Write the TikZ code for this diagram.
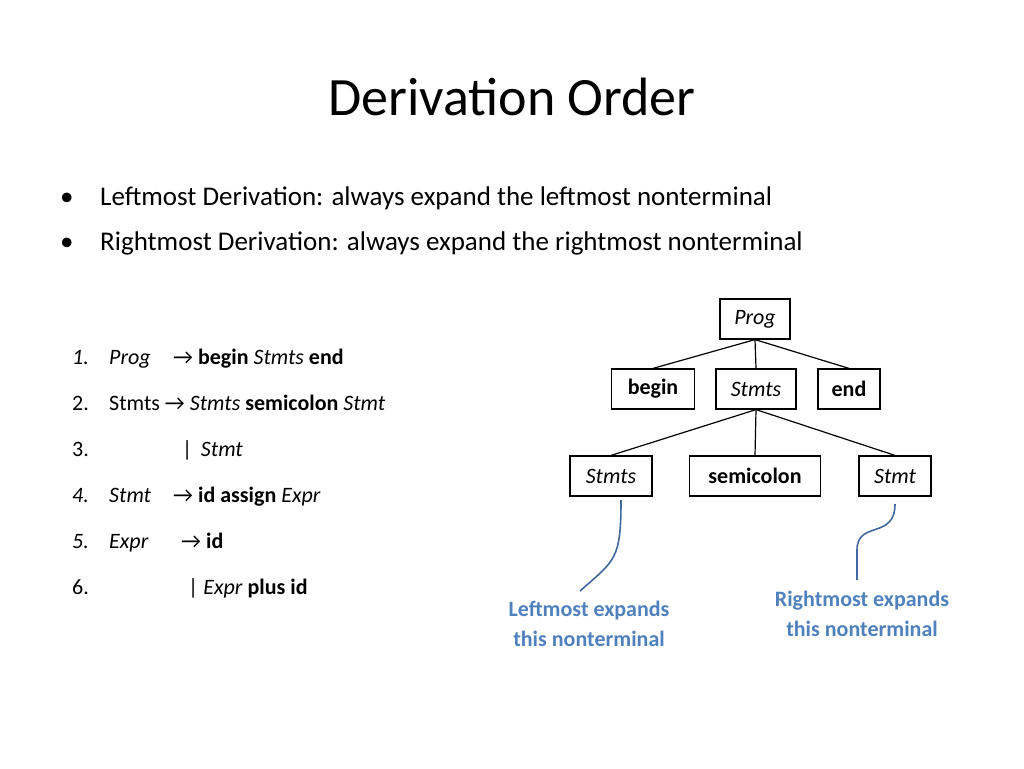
\documentclass[tikz,border=0pt]{standalone}
\usepackage{fontspec}
\setmainfont{Carlito}
\begin{document}
\begin{tikzpicture}[x=1pt,y=-1pt,
  box/.style={draw,line width=1.2pt,minimum height=40pt,inner xsep=8pt,font=\fontsize{22}{26}\selectfont},
  gl/.style={anchor=base west,inner sep=0pt,font=\fontsize{22}{26}\selectfont},
  bl/.style={anchor=base west,inner sep=0pt,font=\fontsize{27}{32}\selectfont},
  tl/.style={draw,line width=1.2pt},
  call/.style={draw=blue!45!black!80,line width=1.6pt,color={rgb,255:red,65;green,105;blue,160}},
  ctext/.style={align=center,font=\bfseries\fontsize{22}{30}\selectfont,text={rgb,255:red,79;green,129;blue,189}}]
\useasboundingbox (0,0) rectangle (1024,768);
\node[font=\fontsize{54}{60}\selectfont] (title) at (512,97) {Derivation Order};
\node[bl] (b1) at (60,205) {•};
\node[bl] (t1) at (100,205) {Leftmost Derivation: always expand the leftmost nonterminal};
\node[bl] (b2) at (60,250) {•};
\node[bl] (t2) at (100,250) {Rightmost Derivation: always expand the rightmost nonterminal};
% grammar
\node[gl] (n1) at (72,364) {\itshape 1.};
\node[gl] (l1a) at (109,364) {\itshape Prog};
\node[gl] (l1b) at (173,364) {→ \textbf{begin} \textit{Stmts} \textbf{end}};
\node[gl] (n2) at (72,410) {2.};
\node[gl] (l2) at (109,410) {Stmts → \textit{Stmts} \textbf{semicolon} \textit{Stmt}};
\node[gl] (n3) at (72,456) {3.};
\node[gl] (l3) at (182,456) {|\, \textit{Stmt}};
\node[gl] (n4) at (72,502) {\itshape 4.};
\node[gl] (l4a) at (109,502) {\itshape Stmt};
\node[gl] (l4b) at (173,502) {→ \textbf{id assign} \textit{Expr}};
\node[gl] (n5) at (72,548) {\itshape 5.};
\node[gl] (l5a) at (109,548) {\itshape Expr};
\node[gl] (l5b) at (181,548) {→ \textbf{id}};
\node[gl] (n6) at (72,594) {6.};
\node[gl] (l6) at (188,594) {| \textit{Expr} \textbf{plus id}};
% tree
\node[box,minimum width=70pt] (prog) at (755,319) {\itshape Prog};
\node[box,minimum width=83pt] (begin) at (653,389) {\bfseries begin};
\node[box,minimum width=80pt] (stmts) at (756,389) {\itshape Stmts};
\node[box,minimum width=62pt] (end) at (849,389) {\bfseries end};
\node[box,minimum width=82pt] (stmts2) at (611,476) {\itshape Stmts};
\node[box,minimum width=131pt] (semi) at (755,476) {\bfseries semicolon};
\node[box,minimum width=72pt] (stmt) at (895,476) {\itshape Stmt};
\draw[tl] (prog.south) -- (begin.north);
\draw[tl] (prog.south) -- (stmts.north);
\draw[tl] (prog.south) -- (end.north);
\draw[tl] (stmts.south) -- (stmts2.north);
\draw[tl] (stmts.south) -- (semi.north);
\draw[tl] (stmts.south) -- (stmt.north);
% callouts
\node[ctext] (lt) at (589,624) {Leftmost expands\\this nonterminal};
\node[ctext] (rt) at (862,614) {Rightmost expands\\this nonterminal};
\coordinate (c1) at (621,500);
\coordinate (c2) at (580,591);
\draw[call] (c1) .. controls (621,560) and (615,560) .. (c2);
\coordinate (c3) at (895,504);
\coordinate (c4) at (857,580);
\draw[call] (c3) .. controls (895,540) and (857,520) .. (857,550) -- (c4);
\end{tikzpicture}
\end{document}
